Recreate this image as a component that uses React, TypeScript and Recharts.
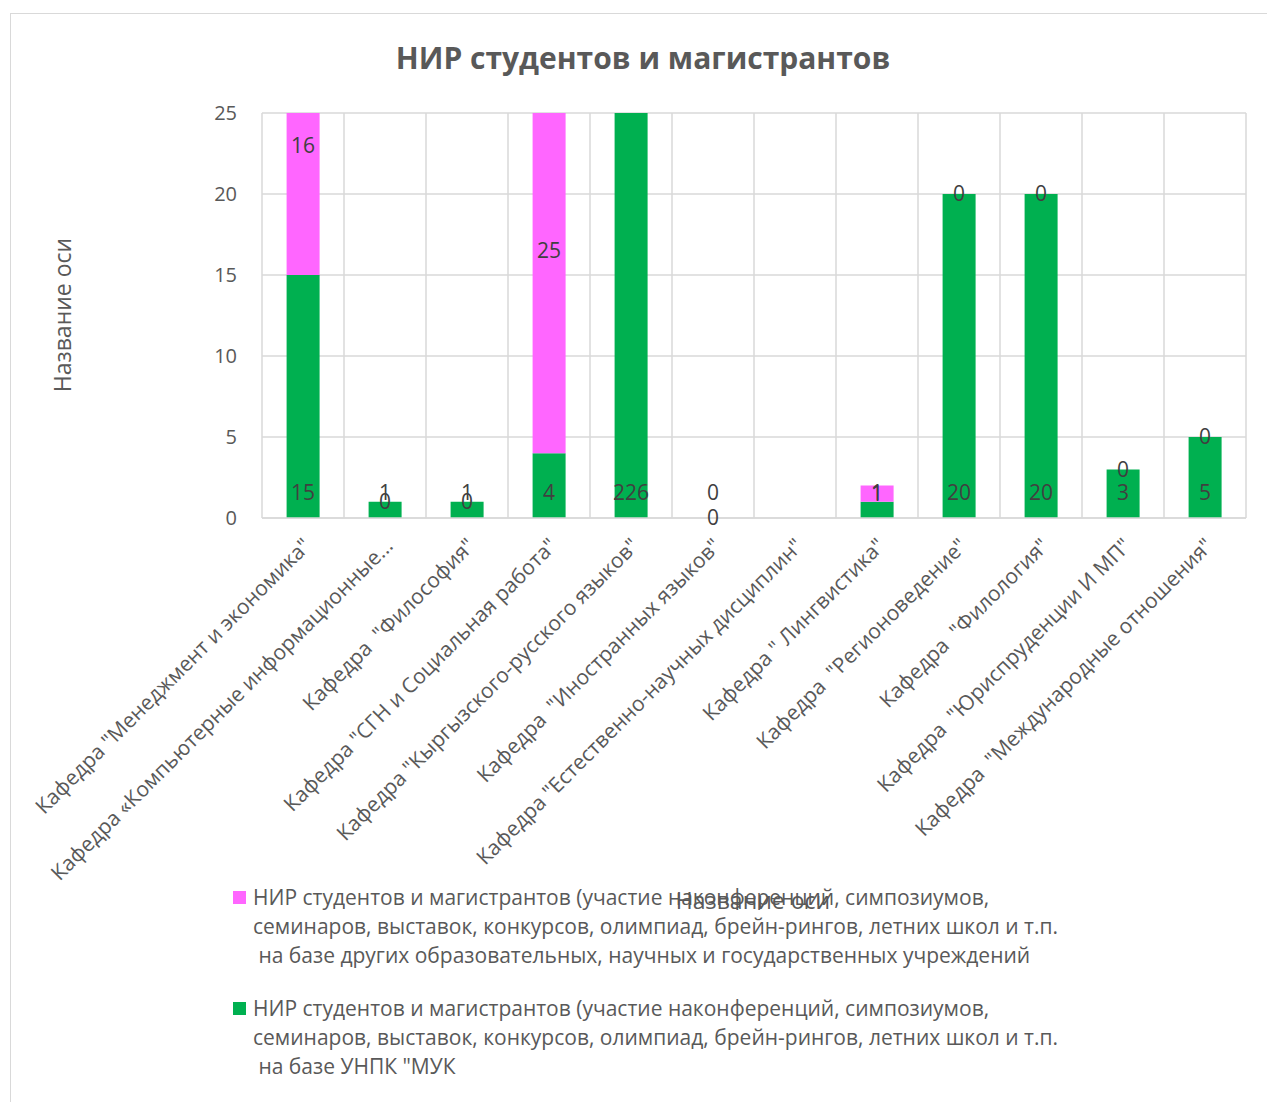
import React from 'react';
import { ComposedChart, Bar, Line, XAxis, YAxis, CartesianGrid, LabelList } from 'recharts';

const categories = [
  'Кафедра "Менеджмент и экономика"',
  'Кафедра «Компьютерные информационные...',
  'Кафедра  "Философия"',
  'Кафедра "СГН и Социальная работа"',
  'Кафедра "Кыргызского-русского языков"',
  'Кафедра  "Иностранных языков"',
  'Кафедра "Естественно-научных дисциплин"',
  'Кафедра " Лингвистика"',
  'Кафедра  "Регионоведение"',
  'Кафедра  "Филология"',
  'Кафедра  "Юриспруденции И МП"',
  'Кафедра  "Международные отношения"',
];
const greenValues: (number | null)[] = [15, 1, 1, 4, 226, 0, null, 1, 20, 20, 3, 5];
const pinkValues: (number | null)[] = [16, 0, 0, 25, 0, 0, null, 1, 0, 0, 0, 0];
const yTicks = [0, 5, 10, 15, 20, 25];

const chartTitle = 'НИР студентов и магистрантов';
const axisTitle = 'Название оси';
const pinkLegend = [
  'НИР студентов и магистрантов (участие наконференций, симпозиумов,',
  'семинаров, выставок, конкурсов, олимпиад, брейн-рингов, летних школ и т.п.',
  ' на базе других образовательных, научных и государственных учреждений',
];
const greenLegend = [
  'НИР студентов и магистрантов (участие наконференций, симпозиумов,',
  'семинаров, выставок, конкурсов, олимпиад, брейн-рингов, летних школ и т.п.',
  ' на базе УНПК "МУК',
];

const GREEN = '#00B050';
const PINK = '#FF66FF';
const TEXT = '#595959';
const LABEL = '#404040';
const GRID = '#d9d9d9';
const FONT = '"Open Sans", sans-serif';

// label anchor points: green labels sit at the bar base, pink labels at the centre of the pink segment
const data = categories.map((name, i) => {
  const g = greenValues[i];
  const p = pinkValues[i];
  return {
    name,
    green: g,
    pink: p,
    greenBase: g == null ? null : 0,
    pinkMid: p == null ? null : (g ?? 0) + p / 2,
  };
});

const pt = (p: any) => {
  const vb = p.viewBox && p.viewBox.x != null ? p.viewBox : p;
  return { x: Number(p.x ?? vb.x), y: Number(p.y ?? vb.y) };
};

const GreenLabel = (p: any) => {
  if (p.value == null) return null;
  const b = pt(p);
  if (!isFinite(b.x) || !isFinite(b.y)) return null;
  return (
    <text x={b.x} y={b.y - 25} dy="0.35em" textAnchor="middle" fill={LABEL} fontSize={21} fontFamily={FONT}>
      {p.value}
    </text>
  );
};

const PinkLabel = (p: any) => {
  if (p.value == null) return null;
  const b = pt(p);
  if (!isFinite(b.x) || !isFinite(b.y) || b.y < 0) return null;
  return (
    <text x={b.x} y={b.y} dy="0.35em" textAnchor="middle" fill={LABEL} fontSize={21} fontFamily={FONT}>
      {p.value}
    </text>
  );
};

const CatTick = (p: any) => {
  const { x, y, payload } = p;
  return (
    <text
      transform={`translate(${x + 4},${y + 16}) rotate(-45)`}
      textAnchor="end"
      dy="0.35em"
      fill={TEXT}
      fontSize={21}
      fontFamily={FONT}
      style={{ whiteSpace: 'pre' }}
    >
      {payload.value}
    </text>
  );
};

const vGen = (props: any) => {
  const o = props.offset;
  const n = categories.length;
  const arr: number[] = [];
  for (let i = 0; i <= n; i++) arr.push(o.left + (o.width * i) / n);
  return arr;
};

const LegendBlock = ({ top, color, lines }: { top: number; color: string; lines: string[] }) => (
  <div style={{ position: 'absolute', left: 233, top, fontFamily: FONT, fontSize: 21, color: TEXT }}>
    <div style={{ position: 'absolute', left: 0, top: 8, width: 13, height: 13, background: color }} />
    {lines.map((l, i) => (
      <div key={i} style={{ position: 'absolute', left: 20, top: i * 29, lineHeight: '29px', whiteSpace: 'pre' }}>
        {l}
      </div>
    ))}
  </div>
);

export default function App() {
  return (
    <div style={{ position: 'absolute', left: 0, top: 0, width: 1267, height: 1102, background: '#fff', overflow: 'hidden' }}>
      <div style={{ position: 'absolute', left: 10, top: 13, width: 1300, height: 1200, border: '1px solid #d9d9d9' }} />
      <div style={{ position: 'absolute', left: 0, top: 0 }}>
        <ComposedChart width={1267} height={1102} data={data} margin={{ top: 113, right: 21, left: 0, bottom: 484 }} barCategoryGap="30%">
          <CartesianGrid stroke={GRID} strokeWidth={1.5} verticalCoordinatesGenerator={vGen} />
          <XAxis
            dataKey="name"
            height={100}
            interval={0}
            tick={<CatTick />}
            tickLine={false}
            axisLine={{ stroke: GRID, strokeWidth: 1.5 }}
          />
          <YAxis
            width={262}
            domain={[0, 25]}
            ticks={yTicks}
            allowDataOverflow
            tickLine={false}
            axisLine={false}
            tickSize={0}
            tickMargin={25}
            tick={{ fill: TEXT, fontSize: 20, fontFamily: FONT }}
          />
          <Bar dataKey="green" stackId="a" fill={GREEN} isAnimationActive={false} />
          <Bar dataKey="pink" stackId="a" fill={PINK} isAnimationActive={false} />
          <Line dataKey="greenBase" stroke="none" dot={false} activeDot={false} isAnimationActive={false} legendType="none">
            <LabelList dataKey="green" content={<GreenLabel />} />
          </Line>
          <Line dataKey="pinkMid" stroke="none" dot={false} activeDot={false} isAnimationActive={false} legendType="none">
            <LabelList dataKey="pink" content={<PinkLabel />} />
          </Line>
        </ComposedChart>
      </div>
      <div style={{ position: 'absolute', left: 343, width: 600, top: 38, textAlign: 'center', fontFamily: FONT, fontWeight: 700, fontSize: 30, lineHeight: '40px', color: TEXT }}>
        {chartTitle}
      </div>
      <div style={{ position: 'absolute', left: 62 - 100, top: 315 - 15, width: 200, height: 30, lineHeight: '30px', textAlign: 'center', transform: 'rotate(-90deg)', fontFamily: FONT, fontSize: 23, color: TEXT }}>
        {axisTitle}
      </div>
      <div style={{ position: 'absolute', left: 753 - 100, top: 900 - 15, width: 200, height: 30, lineHeight: '30px', textAlign: 'center', fontFamily: FONT, fontSize: 23, color: TEXT }}>
        {axisTitle}
      </div>
      <LegendBlock top={883} color={PINK} lines={pinkLegend} />
      <LegendBlock top={994} color={GREEN} lines={greenLegend} />
    </div>
  );
}
